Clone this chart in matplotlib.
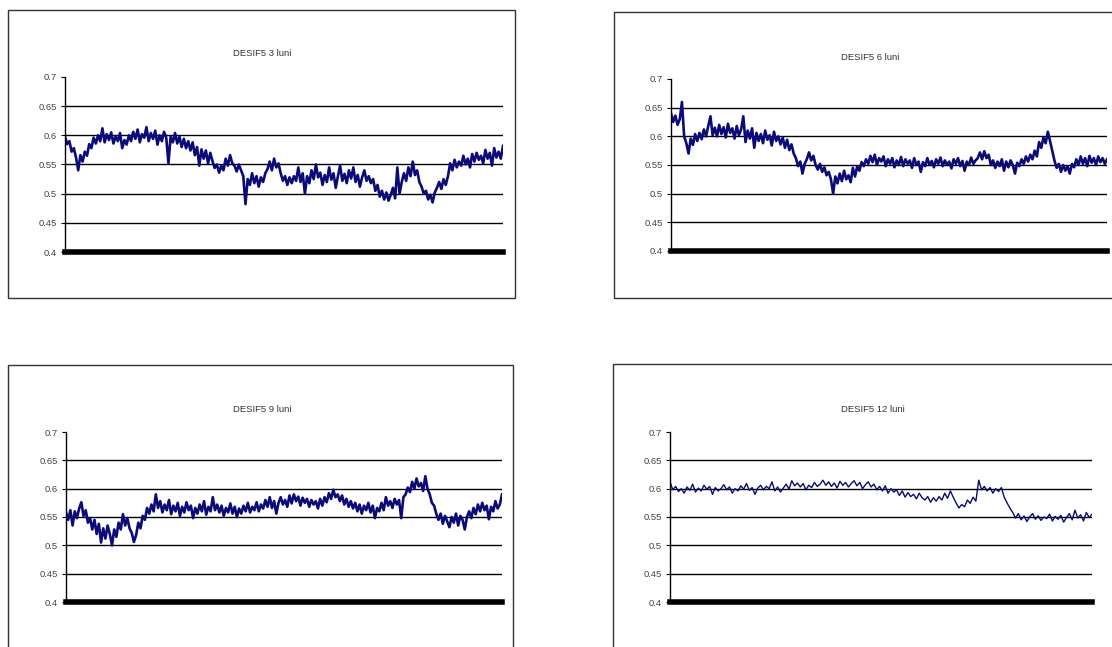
import numpy as np
import matplotlib
matplotlib.use("Agg")
import matplotlib.pyplot as plt
from matplotlib.patches import Rectangle

plt.rcParams['font.family'] = ['Liberation Sans', 'DejaVu Sans']

# chart titles
titles = ["DESIF5 3 luni", "DESIF5 6 luni", "DESIF5 9 luni", "DESIF5 12 luni"]

# y axis ticks / labels
y_ticks = [0.4, 0.45, 0.5, 0.55, 0.6, 0.65, 0.7]
y_labels = ["0.4", "0.45", "0.5", "0.55", "0.6", "0.65", "0.7"]

# series
luni3 = [
    0.598, 0.585, 0.590, 0.572, 0.578, 0.562, 0.540, 0.566, 0.555, 0.572,
    0.565, 0.585, 0.578, 0.596, 0.586, 0.600, 0.590, 0.612, 0.588, 0.602,
    0.592, 0.605, 0.586, 0.598, 0.590, 0.604, 0.578, 0.592, 0.584, 0.600,
    0.590, 0.606, 0.594, 0.610, 0.588, 0.602, 0.596, 0.614, 0.590, 0.604,
    0.594, 0.608, 0.584, 0.600, 0.590, 0.606, 0.596, 0.552, 0.598, 0.588,
    0.604, 0.586, 0.598, 0.580, 0.594, 0.578, 0.590, 0.574, 0.588, 0.566,
    0.580, 0.548, 0.576, 0.560, 0.574, 0.552, 0.570, 0.556, 0.544, 0.550,
    0.536, 0.548, 0.540, 0.560, 0.548, 0.566, 0.552, 0.548, 0.538, 0.550,
    0.540, 0.530, 0.482, 0.525, 0.515, 0.535, 0.518, 0.530, 0.512, 0.528,
    0.520, 0.535, 0.542, 0.555, 0.540, 0.560, 0.545, 0.552, 0.535, 0.522,
    0.530, 0.515, 0.528, 0.518, 0.530, 0.522, 0.545, 0.520, 0.535, 0.500,
    0.530, 0.518, 0.540, 0.525, 0.550, 0.528, 0.536, 0.515, 0.532, 0.520,
    0.545, 0.524, 0.535, 0.510, 0.530, 0.548, 0.522, 0.534, 0.518, 0.540,
    0.526, 0.545, 0.520, 0.532, 0.512, 0.528, 0.540, 0.522, 0.530, 0.518,
    0.525, 0.505, 0.515, 0.495, 0.505, 0.490, 0.502, 0.488, 0.498, 0.510,
    0.492, 0.545, 0.500, 0.520, 0.535, 0.522, 0.545, 0.530, 0.555, 0.532,
    0.540, 0.520, 0.512, 0.500, 0.505, 0.490, 0.498, 0.485, 0.502, 0.510,
    0.520, 0.508, 0.525, 0.515, 0.530, 0.552, 0.540, 0.558, 0.545, 0.555,
    0.548, 0.565, 0.550, 0.560, 0.545, 0.568, 0.555, 0.570, 0.558, 0.565,
    0.552, 0.575, 0.560, 0.570, 0.548, 0.578, 0.562, 0.572, 0.560, 0.582,
]

luni6 = [
    0.640, 0.625, 0.636, 0.620, 0.630, 0.660, 0.600, 0.588, 0.570, 0.596,
    0.585, 0.604, 0.592, 0.606, 0.595, 0.612, 0.600, 0.618, 0.635, 0.602,
    0.615, 0.600, 0.620, 0.604, 0.616, 0.598, 0.622, 0.606, 0.614, 0.596,
    0.618, 0.602, 0.612, 0.635, 0.590, 0.610, 0.596, 0.614, 0.580, 0.606,
    0.592, 0.604, 0.588, 0.610, 0.594, 0.602, 0.584, 0.608, 0.592, 0.600,
    0.586, 0.598, 0.580, 0.594, 0.576, 0.586, 0.570, 0.562, 0.548, 0.556,
    0.535, 0.552, 0.560, 0.572, 0.558, 0.566, 0.550, 0.542, 0.552, 0.538,
    0.546, 0.532, 0.538, 0.525, 0.500, 0.530, 0.518, 0.535, 0.522, 0.540,
    0.525, 0.532, 0.520, 0.545, 0.530, 0.548, 0.540, 0.555, 0.548, 0.560,
    0.552, 0.566, 0.555, 0.568, 0.550, 0.562, 0.556, 0.565, 0.548, 0.560,
    0.552, 0.562, 0.546, 0.558, 0.550, 0.564, 0.548, 0.560, 0.552, 0.558,
    0.545, 0.562, 0.550, 0.556, 0.538, 0.555, 0.548, 0.562, 0.550, 0.557,
    0.546, 0.560, 0.552, 0.563, 0.548, 0.558, 0.550, 0.556, 0.544, 0.560,
    0.552, 0.562, 0.548, 0.557, 0.540, 0.556, 0.550, 0.563, 0.552, 0.558,
    0.562, 0.572, 0.560, 0.574, 0.562, 0.568, 0.550, 0.558, 0.545, 0.556,
    0.548, 0.560, 0.540, 0.556, 0.546, 0.558, 0.550, 0.535, 0.554, 0.548,
    0.560, 0.552, 0.565, 0.556, 0.568, 0.560, 0.575, 0.565, 0.590, 0.580,
    0.598, 0.588, 0.608, 0.592, 0.575, 0.558, 0.545, 0.552, 0.538, 0.550,
    0.540, 0.548, 0.535, 0.552, 0.546, 0.560, 0.550, 0.565, 0.552, 0.562,
    0.548, 0.566, 0.554, 0.562, 0.550, 0.565, 0.555, 0.562, 0.552, 0.560,
]

luni9 = [
    0.558, 0.545, 0.562, 0.535, 0.560, 0.548, 0.565, 0.576, 0.552, 0.562,
    0.540, 0.548, 0.528, 0.545, 0.520, 0.538, 0.505, 0.530, 0.512, 0.535,
    0.520, 0.500, 0.528, 0.515, 0.540, 0.528, 0.555, 0.535, 0.548, 0.530,
    0.522, 0.506, 0.518, 0.540, 0.530, 0.552, 0.545, 0.566, 0.556, 0.572,
    0.560, 0.590, 0.566, 0.578, 0.558, 0.572, 0.562, 0.580, 0.555, 0.570,
    0.560, 0.575, 0.552, 0.568, 0.558, 0.576, 0.562, 0.570, 0.548, 0.566,
    0.556, 0.572, 0.560, 0.578, 0.554, 0.568, 0.560, 0.585, 0.562, 0.572,
    0.558, 0.570, 0.552, 0.566, 0.558, 0.574, 0.556, 0.568, 0.550, 0.565,
    0.556, 0.570, 0.560, 0.575, 0.558, 0.568, 0.562, 0.576, 0.560, 0.572,
    0.565, 0.580, 0.568, 0.585, 0.566, 0.578, 0.556, 0.575, 0.585, 0.572,
    0.580, 0.568, 0.588, 0.574, 0.590, 0.578, 0.586, 0.570, 0.584, 0.575,
    0.582, 0.568, 0.580, 0.572, 0.578, 0.565, 0.582, 0.570, 0.585, 0.576,
    0.592, 0.582, 0.598, 0.585, 0.590, 0.578, 0.588, 0.572, 0.582, 0.568,
    0.578, 0.565, 0.575, 0.560, 0.572, 0.556, 0.570, 0.562, 0.575, 0.558,
    0.570, 0.548, 0.566, 0.560, 0.575, 0.562, 0.585, 0.570, 0.578, 0.566,
    0.582, 0.572, 0.580, 0.548, 0.585, 0.590, 0.602, 0.594, 0.612, 0.600,
    0.618, 0.604, 0.610, 0.596, 0.622, 0.600, 0.590, 0.575, 0.570, 0.556,
    0.545, 0.556, 0.538, 0.552, 0.542, 0.532, 0.550, 0.540, 0.556, 0.535,
    0.552, 0.545, 0.528, 0.550, 0.560, 0.548, 0.566, 0.555, 0.572, 0.560,
    0.575, 0.562, 0.570, 0.546, 0.568, 0.560, 0.578, 0.565, 0.572, 0.590,
]

luni12 = [
    0.612, 0.598, 0.604, 0.595, 0.600, 0.592, 0.603, 0.597, 0.608, 0.594,
    0.601, 0.596, 0.606, 0.599, 0.604, 0.590, 0.602, 0.596, 0.600, 0.607,
    0.598, 0.603, 0.592, 0.600, 0.596, 0.605, 0.599, 0.609, 0.597, 0.602,
    0.590, 0.601, 0.606, 0.598, 0.604, 0.600, 0.612, 0.596, 0.603, 0.594,
    0.601, 0.608, 0.599, 0.614, 0.605, 0.610, 0.603, 0.609, 0.598, 0.606,
    0.602, 0.611, 0.604, 0.608, 0.615, 0.606, 0.612, 0.604, 0.610, 0.601,
    0.613, 0.606, 0.611, 0.603, 0.609, 0.614, 0.605, 0.611, 0.600, 0.607,
    0.612, 0.603, 0.608, 0.598, 0.604, 0.596, 0.605, 0.592, 0.600, 0.594,
    0.598, 0.588, 0.596, 0.585, 0.593, 0.586, 0.590, 0.582, 0.592, 0.584,
    0.580, 0.586, 0.576, 0.584, 0.578, 0.586, 0.580, 0.592, 0.583, 0.596,
    0.585, 0.575, 0.566, 0.572, 0.568, 0.580, 0.574, 0.585, 0.578, 0.615,
    0.598, 0.604, 0.596, 0.602, 0.592, 0.600, 0.595, 0.602, 0.585, 0.575,
    0.566, 0.558, 0.548, 0.556, 0.545, 0.552, 0.542, 0.550, 0.556, 0.546,
    0.552, 0.544, 0.550, 0.547, 0.555, 0.543, 0.551, 0.546, 0.553, 0.541,
    0.549, 0.556, 0.545, 0.562, 0.548, 0.554, 0.543, 0.558, 0.549, 0.555,
]

series = [luni3, luni6, luni9, luni12]

W, H = 1112, 647
fig = plt.figure(figsize=(W / 100, H / 100), dpi=100)

def fx(px):
    return px / W

def fy(py):
    return 1 - py / H

# pixel layout: chart box, plot area (left, top, right, bottom), title position, line width
boxes = [(8, 10, 515, 298), (614, 12, 1130, 298), (8, 365, 513, 660), (613, 364, 1130, 660)]
plots = [(65, 77, 503, 252), (671, 79, 1107, 251), (66, 432, 502, 602), (670, 432, 1092, 602)]
title_pos = [(262, 54), (870, 58), (262, 410), (873, 410)]
widths = [1.9, 1.9, 1.9, 1.0]

for i in range(4):
    bx0, by0, bx1, by1 = boxes[i]
    fig.patches.append(Rectangle((fx(bx0), fy(by1)), fx(bx1 - bx0), (by1 - by0) / H,
                                 transform=fig.transFigure, fill=False,
                                 edgecolor='#333333', linewidth=1.0))

    l, t, r, b = plots[i]
    ax = fig.add_axes([fx(l), fy(b), fx(r - l), (b - t) / H])
    y = series[i]
    ax.plot(np.arange(len(y)), y, color='#0a0a7a', linewidth=widths[i])
    ax.set_xlim(0, len(y) - 1)
    ax.set_ylim(0.4, 0.7)
    for g in y_ticks[1:-1]:
        ax.axhline(g, color='black', linewidth=1.0, zorder=0)
    ax.set_yticks(y_ticks)
    ax.set_yticklabels(y_labels, fontsize=6.8, color='#444444')
    ax.set_xticks([])
    ax.tick_params(axis='y', length=3, width=0.8, pad=3, color='black')
    ax.spines['top'].set_visible(False)
    ax.spines['right'].set_visible(False)
    ax.spines['left'].set_linewidth(1.0)
    ax.spines['bottom'].set_linewidth(4.0)
    ax.patch.set_visible(False)

    tx, ty = title_pos[i]
    fig.text(fx(tx), fy(ty), titles[i], ha='center', va='center', fontsize=6.8, color='#333333')

plt.savefig('out.png', dpi=100)
